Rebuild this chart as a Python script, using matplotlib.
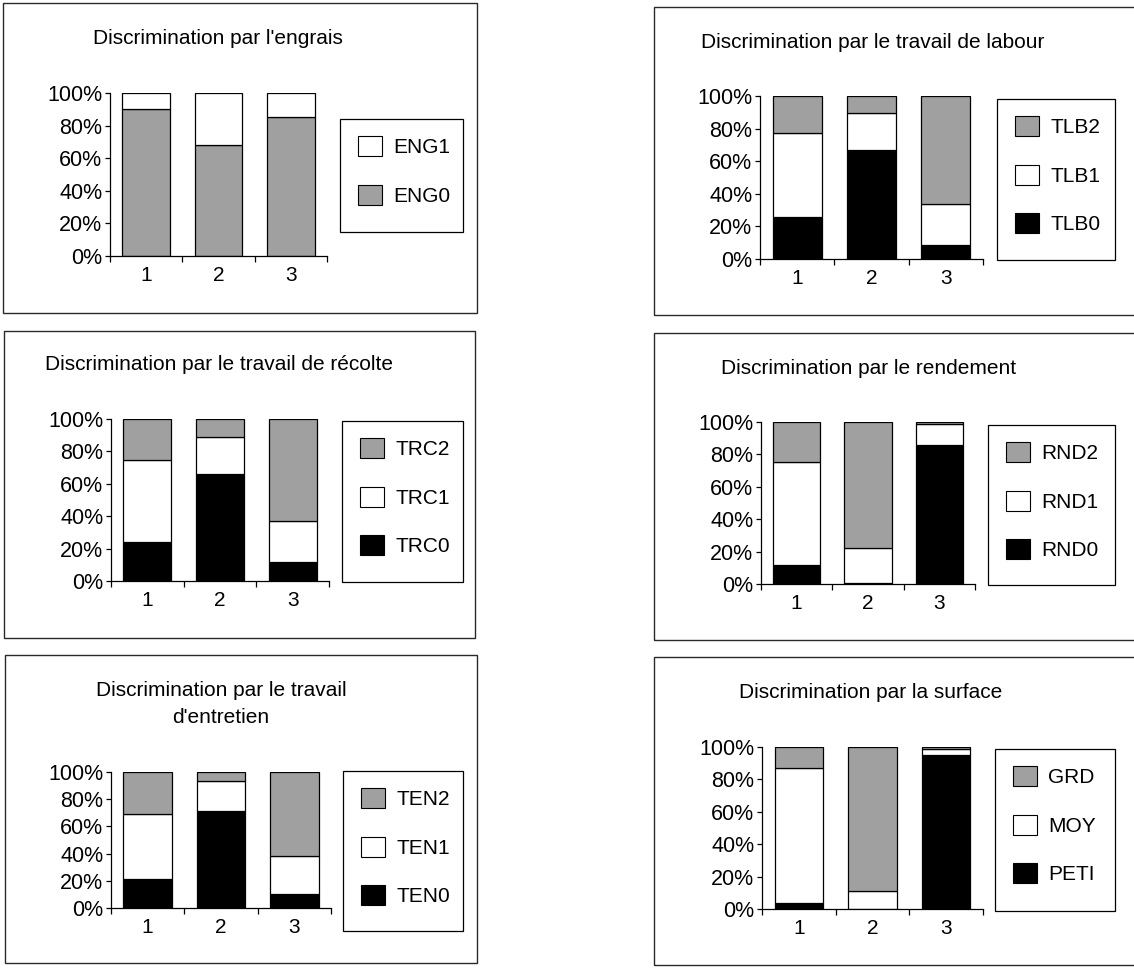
import matplotlib
matplotlib.use('Agg')
import matplotlib.pyplot as plt
from matplotlib.patches import Rectangle, Patch

plt.rcParams['font.family'] = ['Liberation Sans', 'DejaVu Sans']

# Données (%)
categories = ['1', '2', '3']

eng_labels = ['ENG0', 'ENG1']
eng0 = [90, 68, 85]
eng1 = [10, 32, 15]

tlb_labels = ['TLB0', 'TLB1', 'TLB2']
tlb0 = [25.5, 67, 8.5]
tlb1 = [51.5, 22.5, 25]
tlb2 = [23, 10.5, 66.5]

trc_labels = ['TRC0', 'TRC1', 'TRC2']
trc0 = [24, 66, 11.5]
trc1 = [50.5, 23, 25.5]
trc2 = [25.5, 11, 63]

rnd_labels = ['RND0', 'RND1', 'RND2']
rnd0 = [12, 0.5, 86]
rnd1 = [63.5, 22, 13]
rnd2 = [24.5, 77.5, 1]

ten_labels = ['TEN0', 'TEN1', 'TEN2']
ten0 = [21.5, 71, 10]
ten1 = [47.5, 22.5, 28]
ten2 = [31, 6.5, 62]

surf_labels = ['PETI', 'MOY', 'GRD']
peti = [3.5, 0.3, 95]
moy = [83.5, 10.7, 3.5]
grd = [13, 89, 1.5]

titres = ["Discrimination par l'engrais",
          "Discrimination par le travail de labour",
          "Discrimination par le travail de récolte",
          "Discrimination par le rendement",
          "Discrimination par le travail\nd'entretien",
          "Discrimination par la surface"]

GRIS = '#a0a0a0'
W, H = 1134, 968
FS = 15


def fx(px):
    return px / W


def fy(py):
    return 1 - py / H


# mise en page en pixels : cadre, axes (gauche, haut=100%, droite, bas=0%), titre, cadre de légende
mise_en_page = [
    dict(cadre=(3, 3, 477, 313), axes=(110, 93, 327, 256), titre=(218, 39), leg=(340, 119, 463, 232)),
    dict(cadre=(654, 7, 1160, 315), axes=(760, 96, 983, 259), titre=(873, 43), leg=(997, 99, 1115, 260)),
    dict(cadre=(4, 331, 475, 638), axes=(111, 419, 329, 581), titre=(219, 365), leg=(342, 421, 463, 582)),
    dict(cadre=(654, 333, 1160, 640), axes=(761, 422, 975, 584), titre=(869, 368), leg=(988, 425, 1115, 585)),
    dict(cadre=(5, 655, 477, 963), axes=(111, 772, 331, 908), titre=(221, 704), leg=(343, 771, 463, 931)),
    dict(cadre=(654, 657, 1160, 965), axes=(762, 747, 983, 909), titre=(871, 693), leg=(995, 749, 1115, 911)),
]

series = [
    (eng_labels, [eng0, eng1], [GRIS, 'white']),
    (tlb_labels, [tlb0, tlb1, tlb2], ['black', 'white', GRIS]),
    (trc_labels, [trc0, trc1, trc2], ['black', 'white', GRIS]),
    (rnd_labels, [rnd0, rnd1, rnd2], ['black', 'white', GRIS]),
    (ten_labels, [ten0, ten1, ten2], ['black', 'white', GRIS]),
    (surf_labels, [peti, moy, grd], ['black', 'white', GRIS]),
]

fig = plt.figure(figsize=(W / 100, H / 100), dpi=100)


def cadre(x0, y0, x1, y1, couleur, lw):
    fig.add_artist(Rectangle((fx(x0), fy(y1)), (x1 - x0) / W, (y1 - y0) / H,
                             transform=fig.transFigure, fill=False,
                             edgecolor=couleur, lw=lw))


for lay, titre, (labels, valeurs, couleurs) in zip(mise_en_page, titres, series):
    # cadre du panneau
    cadre(*lay['cadre'], '#2a2a2a', 1.0)

    xl, yt, xr, yb = lay['axes']
    ax = fig.add_axes([fx(xl), fy(yb), (xr - xl) / W, (yb - yt) / H])
    pos = list(range(len(categories)))
    bas = [0] * len(categories)
    for vals, c in zip(valeurs, couleurs):
        ax.bar(pos, vals, bottom=bas, width=0.66, color=c, edgecolor='black', lw=0.9)
        bas = [b + v for b, v in zip(bas, vals)]

    ax.set_xlim(-0.5, 2.5)
    ax.set_ylim(0, 100)
    ax.set_yticks([0, 20, 40, 60, 80, 100])
    ax.set_yticklabels([f'{v}%' for v in [0, 20, 40, 60, 80, 100]], fontsize=15.5)
    ax.set_xticks(pos)
    ax.set_xticklabels(categories, fontsize=FS)
    ax.set_xticks([-0.5, 0.5, 1.5, 2.5], minor=True)
    ax.tick_params(axis='x', which='major', length=0, pad=7)
    ax.tick_params(axis='x', which='minor', length=4.5, direction='out', width=0.9)
    ax.tick_params(axis='y', length=3.5, width=0.9, pad=2)
    for s in ['top', 'right']:
        ax.spines[s].set_visible(False)
    for s in ['left', 'bottom']:
        ax.spines[s].set_linewidth(0.9)
    ax.patch.set_alpha(0)

    tx, ty = lay['titre']
    fig.text(fx(tx), fy(ty), titre, ha='center', va='center', fontsize=FS,
             linespacing=1.5)

    # légende : cadre dessiné à part, entrées sans cadre
    lx0, ly0, lx1, ly1 = lay['leg']
    cadre(lx0, ly0, lx1, ly1, 'black', 0.9)
    poignees = [Patch(facecolor=c, edgecolor='black', lw=0.8, label=l)
                for l, c in zip(labels, couleurs)][::-1]
    ax.legend(handles=poignees, loc='upper left',
              bbox_to_anchor=(fx(lx0 + 18), fy(ly0 + 17)), bbox_transform=fig.transFigure,
              fontsize=FS, frameon=False, borderpad=0, labelspacing=1.32,
              handlelength=1.15, handleheight=1.1, handletextpad=0.55,
              borderaxespad=0)

fig.savefig('out.png', dpi=100)
